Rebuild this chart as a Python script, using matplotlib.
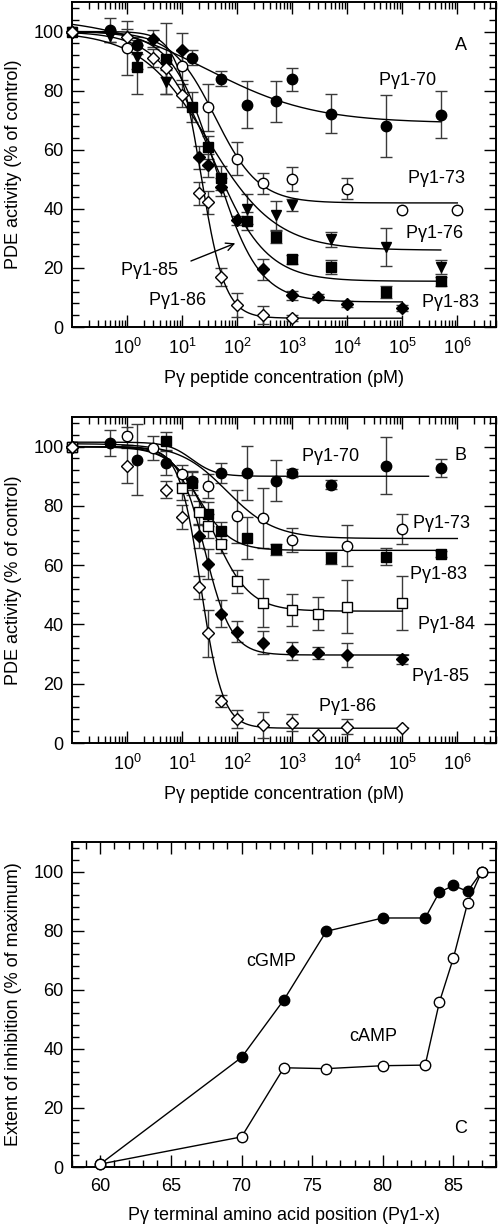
import numpy as np

import matplotlib
matplotlib.use("Agg")

import matplotlib.pyplot as plt
from matplotlib.ticker import LogLocator, FixedLocator, MultipleLocator, NullFormatter

plt.rcParams['font.family'] = ['Liberation Sans', 'DejaVu Sans']
plt.rcParams['mathtext.default'] = 'regular'
plt.rcParams['mathtext.fontset'] = 'custom'
plt.rcParams['mathtext.rm'] = 'Liberation Sans'
FS = 13

# Panel A: concentration (pM), % activity, error
a70_x = [0.1, 0.5, 1.5, 15, 50, 150, 500, 1000, 5000, 5e4, 5e5]
a70_y = [100, 100.5, 95.3, 91.2, 84.0, 75.2, 76.4, 83.8, 72.2, 67.9, 71.9]
a70_e = [0, 4, 3, 2.5, 2.5, 8, 7, 4, 6.5, 10.5, 8]

a73_x = [0.1, 1, 10, 30, 100, 300, 1000, 1e4, 1e5, 1e6]
a73_y = [100, 94.4, 88.5, 74.3, 57, 48.6, 50.2, 46.8, 39.5, 39.5]
a73_e = [0, 9, 5, 8, 5.5, 3.5, 4, 3.5, 0, 0]

a76_x = [0.1, 0.5, 1.5, 5, 150, 500, 1000, 5000, 5e4, 5e5]
a76_y = [100, 98.6, 91.3, 82.9, 40.0, 37.8, 41.2, 29.7, 27.0, 20.3]
a76_e = [0, 2, 4, 4, 5, 5, 2, 2.5, 6.5, 2.5]

a83_x = [0.1, 1.5, 5, 15, 30, 50, 150, 500, 1000, 5000, 5e4, 5e5]
a83_y = [100, 88, 90.8, 74.4, 60.8, 50.4, 36, 30.4, 23, 20.3, 11.8, 15.5]
a83_e = [0, 9, 12, 5, 4, 4, 3, 2, 1.5, 2.5, 2, 1.5]

a85_x = [0.1, 3, 10, 20, 30, 50, 100, 300, 1000, 3000, 1e4, 1e5]
a85_y = [100, 97.6, 93.6, 57.4, 54.7, 47.4, 36.1, 19.5, 10.8, 10.2, 7.8, 6.4]
a85_e = [0, 3, 6, 4, 4, 3, 1.5, 3.5, 1.5, 1, 1, 1]

a86_x = [0.1, 1, 3, 5, 10, 20, 30, 50, 100, 300, 1000]
a86_y = [100, 98, 91, 87.5, 78.4, 45.2, 42.2, 17, 7.4, 4, 3]
a86_e = [0, 3, 3, 3, 4, 4, 4, 3, 4, 3, 1]

# Panel B
b70_x = [0.1, 0.5, 1.5, 5, 15, 50, 150, 500, 1000, 5000, 5e4, 5e5]
b70_y = [100, 101.2, 95.6, 94.5, 88.3, 91.1, 91.1, 88.5, 91.1, 87.2, 93.6, 92.8]
b70_e = [0, 4.5, 12, 4, 3, 3.5, 9, 7, 1.5, 1.5, 9.5, 3]

b73_x = [0.1, 1, 3, 10, 30, 100, 300, 1000, 1e4, 1e5]
b73_y = [100, 103.7, 99.5, 90.7, 86.6, 76.5, 75.9, 68.6, 66.6, 72.2]
b73_e = [0, 3, 4, 3, 4, 9, 10, 4, 7, 5]

b83_x = [0.1, 5, 15, 30, 50, 150, 500, 5000, 5e4, 5e5]
b83_y = [100, 101.8, 87.7, 77.2, 71.4, 69.1, 65.3, 62.3, 62.9, 63.9]
b83_e = [0, 3, 4, 4, 3, 7, 2, 2, 3, 1]

b84_x = [0.1, 10, 20, 30, 50, 100, 300, 1000, 3000, 1e4, 1e5]
b84_y = [100, 86, 77.8, 73.1, 67.1, 54.5, 47.2, 44.9, 43.6, 46, 47.2]
b84_e = [0, 4, 4, 4, 3, 4, 8, 5.5, 5.5, 9, 9]

b85_x = [0.1, 20, 30, 50, 100, 300, 1000, 3000, 1e4, 1e5]
b85_y = [100, 69.7, 60.3, 43.6, 37.6, 33.9, 31.1, 30.3, 29.7, 28.2]
b85_e = [0, 4, 5, 4.5, 3.5, 4, 3, 2, 4, 1.5]

b86_x = [0.1, 1, 5, 10, 20, 30, 50, 100, 300, 1000, 3000, 1e4, 1e5]
b86_y = [100, 93.6, 85.5, 76.2, 52.5, 37, 14.3, 8, 6.1, 6.9, 2.7, 5.5, 5.2]
b86_e = [0, 6, 3, 4, 4, 8, 2, 3, 4.5, 3, 0, 2.5, 0]

# fitted curves: top, bottom, IC50 (pM), Hill slope, last concentration
fitA = {'70': (105, 69, 30, 0.45, 5e5), '73': (100, 42, 40, 1.1, 1e6),
        '76': (100, 26, 30, 0.7, 5e5), '83': (100, 15.5, 35, 0.9, 5e5),
        '85': (100, 8.5, 40, 1.1, 1e5), '86': (100, 3, 22, 2.0, 1e5)}
fitB = {'70': (101.5, 90, 15, 2.0, 3e5), '73': (101, 69, 65, 1.0, 1e6),
        '83': (100, 65, 20, 1.5, 6e5), '84': (100, 44.5, 35, 1.3, 1e5),
        '85': (100, 29.7, 26, 1.8, 1.3e5), '86': (100, 5, 22, 2.2, 1.3e5)}

# Panel C
pos = [60, 70, 73, 76, 80, 83, 84, 85, 86, 87]
cgmp = [1, 37.1, 56.6, 79.8, 84.3, 84.3, 93.0, 95.3, 93.3, 100]
camp = [1, 10.2, 33.6, 33.3, 34.3, 34.5, 55.7, 70.8, 89.3, 100]

fig = plt.figure(figsize=(4.98, 12.30), dpi=100)
axA = fig.add_axes([0.1446, 0.7341, 0.851, 0.2643])
axB = fig.add_axes([0.1446, 0.3959, 0.851, 0.2651])
axC = fig.add_axes([0.1446, 0.0512, 0.851, 0.2642])

styles = {'70': dict(marker='o', mfc='black', ms=7.5),
          '73': dict(marker='o', mfc='white', ms=7.5),
          '76': dict(marker='v', mfc='black', ms=7.5),
          '83': dict(marker='s', mfc='black', ms=6.5),
          '84': dict(marker='s', mfc='white', ms=6.5),
          '85': dict(marker='D', mfc='black', ms=6.5),
          '86': dict(marker='D', mfc='white', ms=6.5)}


def series(ax, key, x, y, e, fit):
    x = np.array(x); y = np.array(y); e = np.array(e)
    m = e > 0
    ax.errorbar(x[m], y[m], yerr=e[m], fmt='none', ecolor='#3a3a3a',
                elinewidth=1.0, capsize=4.5, capthick=1.0, zorder=2)
    top, bot, ic, n, xend = fit
    xx = np.logspace(-1, np.log10(xend), 300)
    ax.plot(xx, bot + (top - bot) / (1 + (xx / ic) ** n), color='black', lw=1.0, zorder=3)
    ax.plot(x, y, ls='none', mec='black', mew=1.0, zorder=4, clip_on=False, **styles[key])


def style_log(ax):
    ax.set_xscale('log')
    ax.set_xlim(0.1, 5e6)
    ax.set_ylim(0, 110)
    ax.xaxis.set_major_locator(FixedLocator([10.0 ** k for k in range(0, 7)]))
    ax.set_xticklabels([r'$10^{%d}$' % k for k in range(0, 7)])
    ax.xaxis.set_minor_locator(LogLocator(base=10, subs=np.arange(2, 10), numticks=20))
    ax.xaxis.set_minor_formatter(NullFormatter())
    ax.set_xlabel(r'P$\gamma$ peptide concentration (pM)', fontsize=FS, labelpad=7)
    ax.set_ylabel('PDE activity (% of control)', fontsize=FS)


def style_common(ax):
    ax.yaxis.set_major_locator(MultipleLocator(20))
    ax.yaxis.set_minor_locator(MultipleLocator(4))
    ax.tick_params(which='both', direction='in', top=True, right=True, labelsize=FS)
    ax.tick_params(which='major', length=8.5, width=1.0)
    ax.tick_params(which='minor', length=5, width=1.0)
    ax.tick_params(axis='x', pad=8)
    ax.tick_params(axis='y', pad=6)
    for s in ax.spines.values():
        s.set_linewidth(1.4)
    ax.yaxis.set_label_coords(-0.118, 0.5)


for key, x, y, e in [('70', a70_x, a70_y, a70_e), ('73', a73_x, a73_y, a73_e),
                     ('76', a76_x, a76_y, a76_e), ('83', a83_x, a83_y, a83_e),
                     ('85', a85_x, a85_y, a85_e), ('86', a86_x, a86_y, a86_e)]:
    series(axA, key, x, y, e, fitA[key])
style_log(axA)
style_common(axA)
axA.text(1.23e5, 83.4, r'P$\gamma$1-70', fontsize=FS, ha='center', va='center')
axA.text(4.1e5, 50.3, r'P$\gamma$1-73', fontsize=FS, ha='center', va='center')
axA.text(3.8e5, 31.8, r'P$\gamma$1-76', fontsize=FS, ha='center', va='center')
axA.text(7.3e5, 8.4, r'P$\gamma$1-83', fontsize=FS, ha='center', va='center')
axA.text(2.5, 19.3, r'P$\gamma$1-85', fontsize=FS, ha='center', va='center')
axA.text(8.3, 9.1, r'P$\gamma$1-86', fontsize=FS, ha='center', va='center')
axA.text(1.15e6, 95.3, 'A', fontsize=FS, ha='center', va='center')
axA.annotate('', xy=(103, 28.7), xytext=(13, 22),
             arrowprops=dict(arrowstyle='->', color='black', lw=1.0, mutation_scale=14))

for key, x, y, e in [('70', b70_x, b70_y, b70_e), ('73', b73_x, b73_y, b73_e),
                     ('83', b83_x, b83_y, b83_e), ('84', b84_x, b84_y, b84_e),
                     ('85', b85_x, b85_y, b85_e), ('86', b86_x, b86_y, b86_e)]:
    series(axB, key, x, y, e, fitB[key])
style_log(axB)
style_common(axB)
axB.text(5e3, 96.6, r'P$\gamma$1-70', fontsize=FS, ha='center', va='center')
axB.text(5e5, 74, r'P$\gamma$1-73', fontsize=FS, ha='center', va='center')
axB.text(4.5e5, 56.8, r'P$\gamma$1-83', fontsize=FS, ha='center', va='center')
axB.text(6.2e5, 39.9, r'P$\gamma$1-84', fontsize=FS, ha='center', va='center')
axB.text(4.8e5, 22.6, r'P$\gamma$1-85', fontsize=FS, ha='center', va='center')
axB.text(1e4, 12.2, r'P$\gamma$1-86', fontsize=FS, ha='center', va='center')
axB.text(1.15e6, 97, 'B', fontsize=FS, ha='center', va='center')

axC.plot(pos, cgmp, color='black', lw=1.0, marker='o', mfc='black', mec='black', ms=7.5, clip_on=False, zorder=3)
axC.plot(pos, camp, color='black', lw=1.0, marker='o', mfc='white', mec='black', mew=1.0, ms=7.5, clip_on=False, zorder=4)
axC.set_xlim(58, 88)
axC.set_ylim(0, 110)
axC.xaxis.set_major_locator(MultipleLocator(5))
axC.xaxis.set_minor_locator(MultipleLocator(1))
style_common(axC)
axC.set_xlabel(r'P$\gamma$ terminal amino acid position (P$\gamma$1-x)', fontsize=FS, labelpad=7)
axC.set_ylabel('Extent of inhibition (% of maximum)', fontsize=FS)
axC.yaxis.set_label_coords(-0.118, 0.5)
axC.text(72.1, 69.4, 'cGMP', fontsize=FS, ha='center', va='center')
axC.text(79.3, 44.1, 'cAMP', fontsize=FS, ha='center', va='center')
axC.text(85.5, 13.1, 'C', fontsize=FS, ha='center', va='center')

fig.savefig('out.png', dpi=100)
